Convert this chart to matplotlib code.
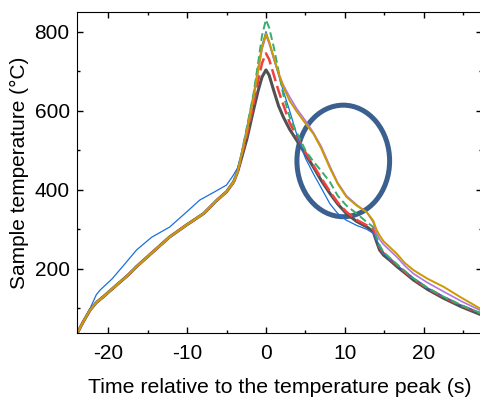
import matplotlib
matplotlib.use('Agg')
import matplotlib.pyplot as plt
from matplotlib.patches import Ellipse

plt.rcParams['font.family'] = ['Liberation Sans', 'DejaVu Sans']
plt.rcParams['axes.unicode_minus'] = False

# shared heating part (all runs except the blue one)
rise_t = [-23.8, -23.2, -22.3, -21.5, -20.6, -19.0, -17.5, -16.4, -14.5, -12.2,
          -10.0, -7.9, -6.2, -5.0, -4.1, -3.6]
rise_T = [42, 65, 96, 115, 130, 158, 184, 206, 240, 281, 312, 340, 374, 395, 420, 445]

blue_rise_t = [-23.8, -23.0, -22.3, -21.5, -21.0, -19.5, -18.0, -16.4, -14.5, -12.2,
               -10.0, -8.4, -6.5, -5.0, -4.2, -3.6]
blue_rise_T = [42, 70, 100, 135, 147, 175, 210, 248, 280, 306, 345, 374, 395, 412, 435, 455]

peak_t = [-3.1, -2.4, -1.6, -1.0, -0.5, 0.0]
black_peak = [480, 530, 600, 650, 685, 703]
red_peak = [485, 540, 615, 675, 720, 745]
green_peak = [490, 560, 640, 720, 790, 830]
gold_peak = [488, 550, 630, 700, 760, 795]
purple_peak = [488, 550, 630, 700, 755, 790]
blue_peak = [495, 560, 640, 710, 765, 800]

cool_t = [0.4, 1.0, 1.6, 2.2, 3.0, 3.9, 5.0, 6.0, 7.0, 8.1, 9.1, 10.2, 11.5, 12.8,
          13.6, 14.0, 14.4, 14.9, 15.7, 16.6, 17.6, 18.7, 20.5, 22.5, 24.8, 27.4]
black_cool = [690, 650, 612, 584, 553, 525, 490, 458, 424, 391, 364, 340, 320, 306,
              294, 270, 248, 235, 222, 206, 190, 172, 148, 126, 104, 83]
red_cool = [730, 690, 650, 615, 570, 535, 495, 462, 430, 396, 368, 344, 324, 310,
            300, 277, 255, 240, 226, 210, 193, 175, 151, 129, 107, 86]
green_cool = [810, 760, 700, 640, 584, 545, 500, 472, 448, 420, 385, 360, 340, 318,
              306, 282, 260, 243, 228, 212, 195, 176, 152, 130, 108, 87]
gold_cool = [775, 735, 695, 660, 625, 598, 568, 542, 505, 455, 415, 382, 360, 343,
             322, 300, 285, 270, 255, 238, 215, 197, 175, 155, 127, 97]
purple_cool = [770, 730, 695, 665, 635, 605, 575, 545, 510, 460, 418, 385, 362, 343,
               318, 292, 275, 262, 247, 230, 208, 188, 165, 143, 118, 93]
blue_cool = [775, 730, 690, 650, 600, 540, 480, 441, 405, 365, 340, 323, 310, 300,
             290, 275, 255, 240, 225, 210, 194, 177, 152, 130, 108, 87]

fig = plt.figure(figsize=(4.81, 3.99), dpi=100)
ax = fig.add_axes([0.1593, 0.1654, 0.843, 0.805])

runs = [
    (rise_t, rise_T, black_peak, black_cool, '#515151', '-', 2.2),
    (rise_t, rise_T, red_peak, red_cool, '#F14040', (0, (5, 2)), 1.8),
    (blue_rise_t, blue_rise_T, blue_peak, blue_cool, '#1A6FDF', '-', 0.9),
    (rise_t, rise_T, green_peak, green_cool, '#37AD6B', (0, (4, 2)), 1.4),
    (rise_t, rise_T, purple_peak, purple_cool, '#B177DE', '-', 1.2),
    (rise_t, rise_T, gold_peak, gold_cool, '#CC9900', '-', 1.4),
]
for rt, rT, pk, cl, col, ls, lw in runs:
    ax.plot(rt + peak_t + cool_t, rT + pk + cl, color=col, linestyle=ls, lw=lw)

ax.add_patch(Ellipse((9.8, 473), 11.75, 282, fill=False, edgecolor='#3B5F8E', lw=3.6))

ax.set_xlim(-24, 27.4)
ax.set_ylim(38, 850)
ax.set_xticks([-20, -10, 0, 10, 20])
ax.set_xticks([-15, -5, 5, 15, 25], minor=True)
ax.set_yticks([200, 400, 600, 800])
ax.set_yticks([100, 300, 500, 700], minor=True)
ax.tick_params(which='both', direction='in', top=True, right=True, labelsize=15)
ax.tick_params(which='major', length=4.5, width=1)
ax.tick_params(which='minor', length=2.5, width=1)
ax.tick_params(axis='x', pad=8)
ax.tick_params(axis='y', pad=5)
ax.set_xlabel('Time relative to the temperature peak (s)', fontsize=15.3, labelpad=11)
ax.set_ylabel('Sample temperature (°C)', fontsize=15, labelpad=4)

fig.savefig('out.png', dpi=100)
